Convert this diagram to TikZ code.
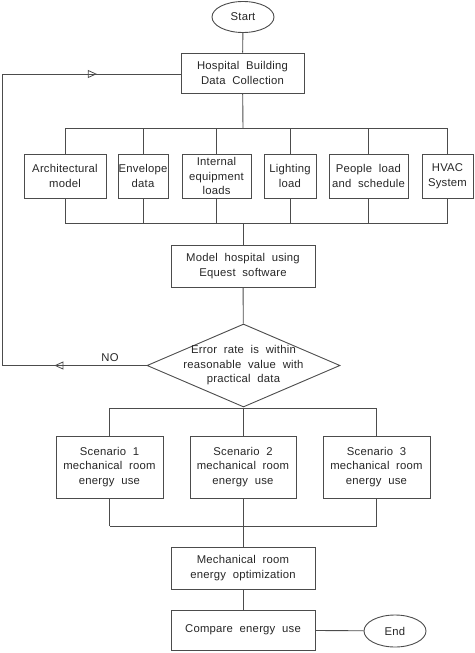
\documentclass[tikz,border=0pt]{standalone}
\usepackage{fontspec}
\setmainfont{Liberation Sans}[LetterSpace=2,WordSpace=2]
\usetikzlibrary{shapes.geometric,arrows.meta,decorations.markings}
\begin{document}
\begin{tikzpicture}[x=1pt,y=-1pt,
  every node/.style={font=\fontsize{11.3}{14.5}\selectfont, text=black!85},
  ln/.style={draw=black!70, line width=0.9pt},
  boxn/.style={ln, rectangle, inner sep=0pt, align=center},
  term/.style={ln, ellipse, inner sep=0pt, minimum width=62pt, minimum height=31pt},
  dia/.style={ln, diamond, inner sep=0pt, minimum width=193pt, minimum height=83pt},
  midarr/.style={postaction={decorate}, decoration={markings,
      mark=at position #1 with {\arrow[black!70, line width=0.8pt]{Triangle[open,length=9pt,width=8pt]}}}}
]
\useasboundingbox (0,0) rectangle (474,653);

% nodes
\node[term] (start) at (243,17) {Start};
\node[boxn, minimum width=123pt, minimum height=40pt] (hosp) at (242.5,73) {Hospital Building\\Data Collection};

\node[boxn, minimum width=82pt, minimum height=44pt] (a1) at (65,176) {Architectural\\model};
\node[boxn, minimum width=50pt, minimum height=44pt] (a2) at (143,176) {Envelope\\data};
\node[boxn, minimum width=69pt, minimum height=44pt] (a3) at (216.5,176) {Internal\\equipment\\loads};
\node[boxn, minimum width=52pt, minimum height=44pt] (a4) at (290,176) {Lighting\\load};
\node[boxn, minimum width=79pt, minimum height=44pt] (a5) at (368.5,176) {People load\\and schedule};
\node[boxn, minimum width=51pt, minimum height=44pt] (a6) at (447.5,176) {HVAC\\System};

\node[boxn, minimum width=144pt, minimum height=42pt] (model) at (243,266) {Model hospital using\\Equest software};
\node[dia, label={[align=center, font=\fontsize{11.3}{14.5}\selectfont, text=black!85]center:Error rate is within\\reasonable value with\\practical data}] (dec) at (243.5,365.5) {};
\node (no) at (110,358) {NO};

\node[boxn, minimum width=107pt, minimum height=62pt] (s1) at (109.5,467) {Scenario 1\\mechanical room\\energy use};
\node[boxn, minimum width=106pt, minimum height=62pt] (s2) at (243,467) {Scenario 2\\mechanical room\\energy use};
\node[boxn, minimum width=107pt, minimum height=62pt] (s3) at (376.5,467) {Scenario 3\\mechanical room\\energy use};

\node[boxn, minimum width=144pt, minimum height=42pt] (mech) at (243,568) {Mechanical room\\energy optimization};
\node[boxn, minimum width=144pt, minimum height=40pt] (comp) at (243,630) {Compare energy use};
\node[term, minimum height=32pt] (end) at (395,631) {End};

% bus coordinates
\coordinate (tb) at (243,128);
\coordinate (bb) at (243,223);
\coordinate (sb) at (243,408);
\coordinate (lb) at (243,526);
\coordinate (c1) at (2.5,365.5);
\coordinate (c2) at (2.5,74);

% connectors
\draw[ln] (start) -- (hosp);
\draw[ln] (hosp) -- (tb);
\draw[ln] (a1.north |- tb) -- (a6.north |- tb);
\foreach \n in {a1,a2,a3,a4,a5,a6}{
  \draw[ln] (\n.north |- tb) -- (\n.north);
  \draw[ln] (\n.south) -- (\n.south |- bb);
}
\draw[ln] (a1.south |- bb) -- (a6.south |- bb);
\draw[ln] (bb) -- (model);
\draw[ln] (model) -- (dec);

\draw[ln] (s1.north |- sb) -- (s3.north |- sb);
\foreach \n in {s1,s2,s3}{
  \draw[ln] (\n.north |- sb) -- (\n.north);
  \draw[ln] (\n.south) -- (\n.south |- lb);
}
\draw[ln] (s1.south |- lb) -- (s3.south |- lb);
\draw[ln] (lb) -- (mech);
\draw[ln] (mech) -- (comp);
\draw[ln] (comp) -- (end);

% feedback loop
\draw[ln, midarr=0.64] (dec.west) -- (c1);
\draw[ln] (c1) -- (c2);
\draw[ln, midarr=0.53] (c2) -- (hosp.west |- c2);
\end{tikzpicture}
\end{document}
